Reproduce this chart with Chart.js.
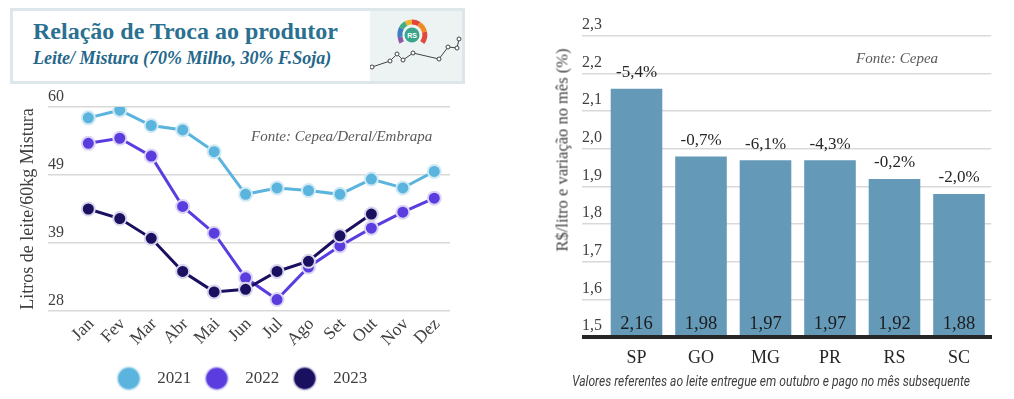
<!DOCTYPE html>
<html><head><meta charset="utf-8">
<script src="https://cdn.jsdelivr.net/npm/chart.js@4.4.1/dist/chart.umd.min.js"></script>
<style>
html,body{margin:0;padding:0;background:#fff;}
body{width:1014px;height:399px;position:relative;overflow:hidden;font-family:"Liberation Serif","Times New Roman",serif;}
.abs{position:absolute;white-space:nowrap;}
#box{position:absolute;left:10px;top:8px;width:449px;height:70px;border:3px solid #dde6eb;}
#t1{left:33px;top:19px;font-size:24px;line-height:24px;font-weight:bold;color:#2a7090;}
#t2{left:33px;top:49px;font-size:18px;line-height:18px;font-weight:bold;font-style:italic;color:#25678a;}
#logo{position:absolute;left:370px;top:11px;}
#fonteL{left:251px;top:129px;font-size:15px;line-height:15px;font-style:italic;color:#595959;}
#fonteR{left:856px;top:51px;font-size:15px;line-height:15px;font-style:italic;color:#595959;}
#ytR{left:562px;top:150px;font-family:"Liberation Serif","Times New Roman",serif;font-size:16.5px;line-height:17px;color:#404040;transform:translate(-50%,-50%) rotate(-90deg);}
#cap{left:771px;top:381px;font-family:"Liberation Sans Narrow","Roboto","Liberation Sans",sans-serif;font-style:italic;font-size:14px;line-height:14px;color:#404040;transform-origin:center center;}
#c1{position:absolute;left:0;top:84px;}
#c2{position:absolute;left:540px;top:0;}
</style></head><body>
<div id="box"></div>
<div class="abs" id="t1">Relação de Troca ao produtor</div>
<div class="abs" id="t2">Leite/ Mistura (70% Milho, 30% F.Soja)</div>
<svg id="logo" width="92" height="70" viewBox="0 0 92 70">
  <rect x="0" y="0" width="92" height="70" fill="#edf3f3"/>
  <path d="M31.7 31.5 A13 13 0 0 1 30.2 26" fill="none" stroke="#8d5aa8" stroke-width="5"/>
  <path d="M30.2 26 A13 13 0 0 1 31.5 17" fill="none" stroke="#3f7fc0" stroke-width="5"/>
  <path d="M31.5 17 A13 13 0 0 1 36 12.5" fill="none" stroke="#3fae80" stroke-width="5"/>
  <path d="M36 12.5 A13 13 0 0 1 42 11" fill="none" stroke="#f0b52e" stroke-width="5"/>
  <path d="M42 11 A13 13 0 0 1 49 13" fill="none" stroke="#e5463c" stroke-width="5"/>
  <path d="M49 13 A13 13 0 0 1 54.5 21" fill="none" stroke="#f08a24" stroke-width="5"/>
  <path d="M54.5 21 A13 13 0 0 1 52.3 31.5" fill="none" stroke="#e04a3a" stroke-width="5"/>
  <circle cx="42" cy="24" r="7.5" fill="#3aa58a"/>
  <text x="42" y="26.6" text-anchor="middle" font-family="Liberation Sans, sans-serif" font-size="7" font-weight="bold" fill="#ffffff">RS</text>
  <polyline points="2,56 20,50 27,43 33,49 43,42 69,48 78,36 87,37 89,28" fill="none" stroke="#444" stroke-width="1"/>
  <g fill="#fff" stroke="#444" stroke-width="1">
    <circle cx="2" cy="56" r="2"/><circle cx="20" cy="50" r="2"/><circle cx="27" cy="43" r="2"/>
    <circle cx="33" cy="49" r="2"/><circle cx="43" cy="42" r="2"/><circle cx="69" cy="48" r="2"/>
    <circle cx="78" cy="36" r="2"/><circle cx="87" cy="37" r="2"/><circle cx="89" cy="28" r="2"/>
  </g>
</svg>
<canvas id="c1" width="480" height="315"></canvas>
<canvas id="c2" width="474" height="399"></canvas>
<div class="abs" id="fonteL">Fonte: Cepea/Deral/Embrapa</div>
<div class="abs" id="fonteR">Fonte: Cepea</div>
<div class="abs" id="ytR">R$/litro e variação no mês (%)</div>
<div class="abs" id="cap">Valores referentes ao leite entregue em outubro e pago no mês subsequente</div>
<script>
// ---------- Left chart data ----------
const months = ['Jan','Fev','Mar','Abr','Mai','Jun','Jul','Ago','Set','Out','Nov','Dez'];
const series2021 = [58.3, 59.5, 57.1, 56.4, 53.0, 46.3, 47.3, 46.9, 46.3, 48.7, 47.3, 49.9];
const series2022 = [54.3, 55.1, 52.3, 44.4, 40.2, 33.2, 29.8, 34.9, 38.2, 41.0, 43.5, 45.7];
const series2023 = [44.0, 42.5, 39.4, 34.2, 31.0, 31.4, 34.2, 35.8, 39.8, 43.2, null, null];
const yearLabels = ['2021', '2022', '2023'];
const leftTickValues = [28, 38.667, 49.333, 60];
const leftTickLabels = ['28', '39', '49', '60'];

// ---------- Right chart data ----------
const states = ['SP','GO','MG','PR','RS','SC'];
const prices = [2.16, 1.98, 1.97, 1.97, 1.92, 1.88];
const changes = [-5.4, -0.7, -6.1, -4.3, -0.2, -2.0];
const barTickValues = [1.5, 1.6, 1.7, 1.8, 1.9, 2.0, 2.1, 2.2, 2.3];
const barTickLabels = ['1,5','1,6','1,7','1,8','1,9','2,0','2,1','2,2','2,3'];

const SERIF = '"Liberation Serif", "Times New Roman", serif';
const lineColors = ['#5ab4dd', '#5b3ddf', '#1a1060'];
const ringColors = ['#cfe9f5', '#dcd4f7', '#d8d5ec'];

function dot(fill, ring) {
  const c = document.createElement('canvas');
  c.width = 26; c.height = 26;
  const g = c.getContext('2d');
  g.beginPath(); g.arc(13, 13, 11.5, 0, Math.PI * 2);
  g.fillStyle = fill; g.fill();
  g.lineWidth = 1.5; g.strokeStyle = ring; g.stroke();
  return c;
}
const legendDots = lineColors.map((c, i) => dot(c, ringColors[i]));

const seriesList = [series2021, series2022, series2023];
new Chart(document.getElementById('c1'), {
  type: 'line',
  data: {
    labels: months,
    datasets: seriesList.map((s, i) => ({
      label: yearLabels[i],
      data: s,
      order: 2 - i,
      borderColor: lineColors[i],
      backgroundColor: lineColors[i],
      borderWidth: 3,
      tension: 0,
      pointRadius: 6.5,
      pointBorderWidth: 2,
      pointBackgroundColor: lineColors[i],
      pointBorderColor: ringColors[i],
      spanGaps: false
    }))
  },
  options: {
    responsive: false, animation: false, devicePixelRatio: 1, events: [],
    layout: { padding: { left: 26, right: 30, top: 23, bottom: 2 } },
    plugins: {
      tooltip: { enabled: false },
      legend: {
        position: 'bottom',
        labels: {
          usePointStyle: true, pointStyleWidth: 40, boxHeight: 17, padding: 5.5,
          font: { family: SERIF, size: 17 }, color: '#404040',
          sort: (a, b) => a.datasetIndex - b.datasetIndex,
          generateLabels(chart) {
            const items = Chart.defaults.plugins.legend.labels.generateLabels(chart);
            items.forEach(it => { it.pointStyle = legendDots[it.datasetIndex]; });
            return items;
          }
        }
      }
    },
    scales: {
      x: {
        offset: true,
        grid: { display: false },
        border: { display: false },
        ticks: { autoSkip: false, minRotation: 45, maxRotation: 45, padding: -5, labelOffset: 3,
                 font: { family: SERIF, size: 17.5 }, color: '#404040' },
        afterFit(s) { s.height = 53.5; }
      },
      y: {
        min: 28, max: 60,
        afterBuildTicks(s) { s.ticks = leftTickValues.map(v => ({ value: v })); },
        grid: { color: '#d9d9d9', lineWidth: 1.5, tickLength: 24.6, drawTicks: true },
        border: { display: false },
        ticks: { mirror: true, padding: -24.6, labelOffset: -10,
                 font: { family: SERIF, size: 16 }, color: '#404040',
                 callback: (v, i) => leftTickLabels[i] },
        title: { display: true, text: 'Litros de leite/60kg Mistura',
                 font: { family: SERIF, size: 18 }, color: '#404040',
                 padding: { top: -8.8, bottom: 0 } },
        afterFit(s) { s.width = 46.6; }
      }
    }
  }
});

const barLabelPlugin = {
  id: 'barLabels',
  afterDatasetsDraw(chart) {
    const ctx = chart.ctx;
    const meta = chart.getDatasetMeta(0);
    const base = chart.scales.y.getPixelForValue(barTickValues[0]);
    ctx.save();
    ctx.textAlign = 'center';
    ctx.textBaseline = 'middle';
    meta.data.forEach((bar, i) => {
      ctx.fillStyle = '#262626';
      ctx.font = '17px ' + SERIF;
      ctx.fillText(changes[i].toFixed(1).replace('.', ',') + '%', bar.x, bar.y - 16);
      ctx.fillStyle = '#1c1c1c';
      ctx.font = '18.5px ' + SERIF;
      ctx.fillText(prices[i].toFixed(2).replace('.', ','), bar.x, base - 13);
    });
    ctx.restore();
  }
};

new Chart(document.getElementById('c2'), {
  type: 'bar',
  data: {
    labels: states,
    datasets: [{ data: prices, backgroundColor: '#6499b8', borderWidth: 0,
                 categoryPercentage: 0.8, barPercentage: 1.0 }]
  },
  options: {
    responsive: false, animation: false, devicePixelRatio: 1, events: [],
    layout: { padding: { left: 0, right: 22.75, top: 36, bottom: 0 } },
    plugins: { legend: { display: false }, tooltip: { enabled: false } },
    scales: {
      x: {
        grid: { display: false, drawTicks: false },
        border: { display: true, color: '#262626', width: 4, z: 1 },
        ticks: { padding: 10, font: { family: SERIF, size: 18 }, color: '#262626' },
        afterFit(s) { s.height = 62; }
      },
      y: {
        min: 1.5, max: 2.3,
        afterBuildTicks(s) { s.ticks = barTickValues.map(v => ({ value: v })); },
        grid: {
          color: c => (c.index === 0 ? '#262626' : '#d9d9d9'),
          lineWidth: c => (c.index === 0 ? 4 : 1.5),
          tickLength: 22.25, drawTicks: true
        },
        border: { display: false },
        ticks: { mirror: true, padding: -22.25, labelOffset: -11,
                 font: { family: SERIF, size: 16 }, color: '#404040',
                 callback: (v, i) => barTickLabels[i] },
        afterFit(s) { s.width = 64.25; }
      }
    }
  },
  plugins: [barLabelPlugin]
});

// fit caption width
const cap = document.getElementById('cap');
const w = cap.getBoundingClientRect().width;
cap.style.transform = 'translate(-50%,-50%) scaleX(' + (398 / w).toFixed(3) + ')';
</script>
</body></html>
